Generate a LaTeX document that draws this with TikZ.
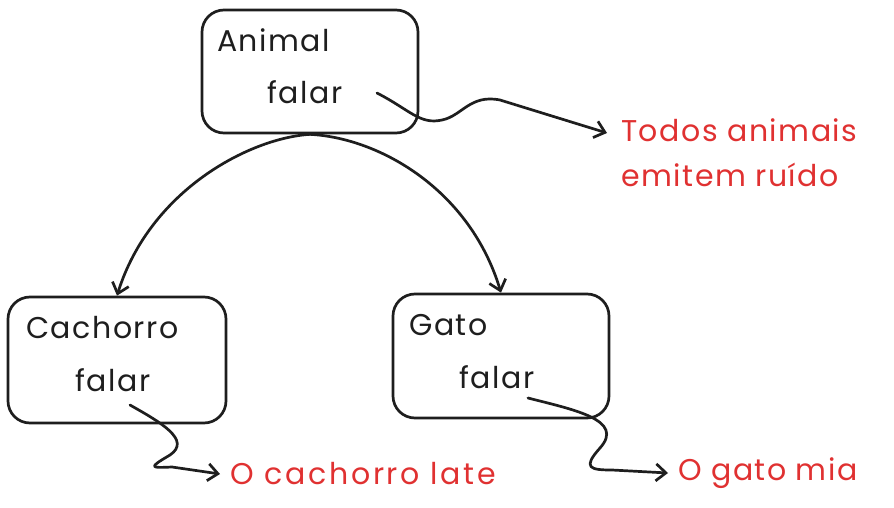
\documentclass[tikz,border=0pt]{standalone}
\usepackage{fontspec}
\setmainfont{Poppins}[LetterSpace=5]
\usetikzlibrary{arrows.meta}
\definecolor{redtxt}{HTML}{E03131}
\definecolor{ink}{HTML}{1E1E1E}
\tikzset{
  box/.style={draw=ink, line width=2.7pt, rounded corners=22pt, inner sep=0pt},
  lbl/.style={anchor=west, inner sep=0pt, text=ink, font=\fontsize{30}{34}\selectfont},
  note/.style={anchor=west, inner sep=0pt, text=redtxt, font=\fontsize{30}{45}\selectfont, align=left},
  notewide/.style={note, font=\fontsize{30}{45}\selectfont\addfontfeatures{LetterSpace=9}},
  link/.style={draw=ink, line width=2.7pt, line cap=round, line join=round, -{Straight Barb[length=10pt,width=17pt,line width=2.7pt]}},
}
\begin{document}
\begin{tikzpicture}[x=1pt,y=-1pt]
\useasboundingbox (0,0) rectangle (894,508);
% boxes
\node[box, minimum width=216pt, minimum height=123pt] (animal) at (310,71.5) {};
\node[box, minimum width=218pt, minimum height=126pt] (cachorro) at (117,360) {};
\node[box, minimum width=216pt, minimum height=124pt] (gato) at (501,356) {};
% labels
\node[lbl] (animalT) at (217,40) {Animal};
\node[lbl] (animalF) at (267,92) {falar};
\node[lbl] (cachT) at (26,328) {Cachorro};
\node[lbl] (cachF) at (75,380) {falar};
\node[lbl] (gatoT) at (409,325) {Gato};
\node[lbl] (gatoF) at (459,377) {falar};
% notes
\node[note] (n1) at (621,153) {Todos animais\\emitem ruído};
\node[notewide] (n2) at (230,474) {O cachorro late};
\node[note] (n3) at (678,473) {O gato mia};
% connector ends
\coordinate (a1) at (377,93);
\coordinate (c1) at (130,405);
\coordinate (g1) at (528,398);
% tree arrows
\draw[link] (animal.south) .. controls (250,138) and (150,190) .. (cachorro.north);
\draw[link] (animal.south) .. controls (380,138) and (470,190) .. (gato.north);
% wiggly arrows
\draw[link] (a1) .. controls (410,110) and (420,125) .. (442,120)
  .. controls (462,116) and (470,94) .. (500,100) -- ([xshift=-14pt]n1.north west |- 0,133);
\draw[link] (c1) .. controls (160,422) and (192,440) .. (170,455)
  .. controls (148,468) and (150,468) .. (172,467) -- ([xshift=-10pt]n2.west);
\draw[link] (g1) .. controls (575,410) and (625,420) .. (600,448)
  .. controls (582,468) and (590,470) .. (612,470) -- ([xshift=-10pt]n3.west);
\end{tikzpicture}
\end{document}
